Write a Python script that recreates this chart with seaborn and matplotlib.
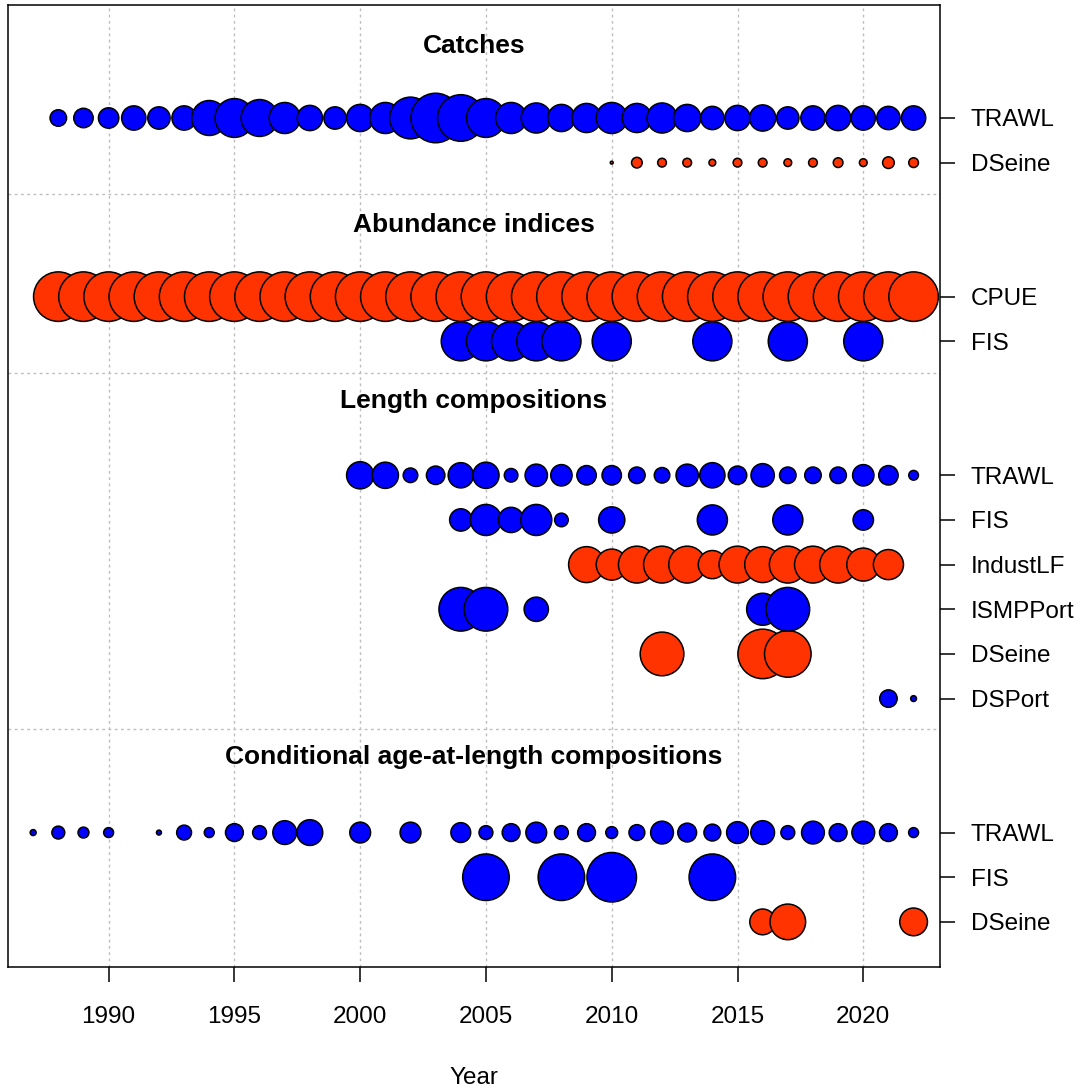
import numpy as np
import pandas as pd
import matplotlib
matplotlib.use("Agg")
import matplotlib.pyplot as plt
import seaborn as sns

# ---------------- data (bubble values, area-proportional) ----------------
catch_trawl_years = list(range(1988, 2023))
catch_trawl = [289, 400, 441, 625, 529, 625, 1296, 1600, 1444, 1024, 676, 529, 784, 1024,
               1849, 2601, 2304, 1600, 1024, 961, 784, 900, 1024, 900, 961, 784, 576, 676,
               729, 529, 625, 676, 625, 576, 625]
catch_dseine_years = list(range(2010, 2023))
catch_dseine = [9, 121, 81, 81, 49, 81, 81, 64, 81, 100, 64, 144, 100]

cpue_years = list(range(1988, 2023))
cpue = [2500] * 35
fis_idx_years = [2004, 2005, 2006, 2007, 2008, 2010, 2014, 2017, 2020]
fis_idx = [1560, 1560, 1560, 1560, 1560, 1560, 1560, 1560, 1560]

len_trawl_years = list(range(2000, 2023))
len_trawl = [784, 729, 225, 361, 676, 729, 196, 529, 484, 400, 400, 289, 256, 529, 676,
             361, 576, 289, 289, 289, 484, 400, 100]
len_fis_years = [2004, 2005, 2006, 2007, 2008, 2010, 2014, 2017, 2020]
len_fis = [529, 1024, 676, 1024, 196, 729, 961, 961, 441]
len_indust_years = list(range(2009, 2022))
len_indust = [1369, 1024, 1444, 1444, 1444, 841, 1444, 1369, 1444, 1444, 1444, 1156, 961]
len_ismp_years = [2004, 2005, 2007, 2016, 2017]
len_ismp = [2025, 2025, 625, 1089, 2025]
len_dseine_years = [2012, 2016, 2017]
len_dseine = [2025, 2601, 2304]
len_dsport_years = [2021, 2022]
len_dsport = [324, 36]

caal_trawl_years = [1987, 1988, 1989, 1990, 1992, 1993, 1994, 1995, 1996, 1997, 1998, 2000,
                    2002] + list(range(2004, 2023))
caal_trawl = [36, 169, 121, 100, 25, 225, 100, 324, 196, 576, 676, 441, 441,
              400, 196, 324, 441, 196, 324, 144, 256, 529, 361, 289, 484, 576, 196, 529,
              324, 529, 324, 100]
caal_fis_years = [2005, 2008, 2010, 2014]
caal_fis = [2209, 2209, 2500, 2209]
caal_dseine_years = [2016, 2017, 2022]
caal_dseine = [676, 1296, 784]

type_titles = ["Catches", "Abundance indices", "Length compositions",
               "Conditional age-at-length compositions"]

# ---------------- assemble ----------------
# (type, fleet label, colour group, row position, years, values)
rows = [
    ("Catches", "TRAWL", "blue", 19, catch_trawl_years, catch_trawl),
    ("Catches", "DSeine", "red", 18, catch_dseine_years, catch_dseine),
    ("Abundance indices", "CPUE", "red", 15, cpue_years, cpue),
    ("Abundance indices", "FIS", "blue", 14, fis_idx_years, fis_idx),
    ("Length compositions", "TRAWL", "blue", 11, len_trawl_years, len_trawl),
    ("Length compositions", "FIS", "blue", 10, len_fis_years, len_fis),
    ("Length compositions", "IndustLF", "red", 9, len_indust_years, len_indust),
    ("Length compositions", "ISMPPort", "blue", 8, len_ismp_years, len_ismp),
    ("Length compositions", "DSeine", "red", 7, len_dseine_years, len_dseine),
    ("Length compositions", "DSPort", "blue", 6, len_dsport_years, len_dsport),
    ("Conditional age-at-length compositions", "TRAWL", "blue", 3, caal_trawl_years, caal_trawl),
    ("Conditional age-at-length compositions", "FIS", "blue", 2, caal_fis_years, caal_fis),
    ("Conditional age-at-length compositions", "DSeine", "red", 1, caal_dseine_years, caal_dseine),
]
recs = []
for t, fl, col, ypos, yrs, vals in rows:
    for y, v in zip(yrs, vals):
        recs.append(dict(type=t, fleet=fl, grp=col, ypos=ypos, year=y, value=v))
df = pd.DataFrame(recs)

title_pos = {"Catches": 20.62, "Abundance indices": 16.6,
             "Length compositions": 12.66, "Conditional age-at-length compositions": 4.7}
separators = [17.3, 13.3, 5.32]

# ---------------- plot ----------------
sns.set_style("white")
plt.rcParams["font.family"] = ["Liberation Sans", "DejaVu Sans"]
plt.rcParams["text.color"] = "black"
plt.rcParams["axes.labelcolor"] = "black"
plt.rcParams["xtick.color"] = "black"
plt.rcParams["ytick.color"] = "black"

W = 1091
fig = plt.figure(figsize=(W / 100, W / 100), dpi=100)
ax = fig.add_axes([8 / W, 1 - 967 / W, 932 / W, 962 / W])

palette = {"blue": "#0000FF", "red": "#FF3300"}
dmax_px = 49.5
smax = (dmax_px * 0.72) ** 2

for t in type_titles:
    sub = df[df["type"] == t].sort_values(["ypos", "year"])
    vmax = sub["value"].max()
    sns.scatterplot(data=sub, x="year", y="ypos", size="value", size_norm=(0, vmax),
                    sizes=(0, smax), hue="grp", palette=palette, legend=False,
                    edgecolor="black", linewidth=1.1, alpha=1, ax=ax, zorder=3)

ax.set_xlim(1986.0, 2023.05)
ax.set_ylim(-0.01, 21.53)

ax.set_xticks(list(range(1990, 2021, 5)))
ax.grid(axis="x", color="#BEBEBE", linestyle=(0, (2, 2.5)), linewidth=1.0)
ax.grid(axis="y", visible=False)
ax.set_axisbelow(True)
for s in separators:
    ax.axhline(s, color="#BEBEBE", linestyle=(0, (2, 2.5)), linewidth=1.0, zorder=1)

for t in type_titles:
    ax.text(0.5, title_pos[t], t, transform=ax.get_yaxis_transform(), ha="center",
            va="center", fontsize=19, fontweight="bold", color="black")

ax.yaxis.tick_right()
ax.set_yticks([r[3] for r in rows])
ax.set_yticklabels([r[1] for r in rows])
ax.tick_params(axis="y", which="both", direction="out", length=11, width=1.1, pad=11,
               labelsize=17.5, right=True, left=False, colors="black")
ax.tick_params(axis="x", which="both", direction="out", length=11, width=1.1, pad=17,
               labelsize=17.5, bottom=True, colors="black")

ax.set_xlabel("Year", fontsize=17.5, color="black")
ax.set_ylabel("")
ax.xaxis.set_label_coords(0.5, (967 - 1078) / 962)
ax.xaxis.label.set_va("center")

for sp in ax.spines.values():
    sp.set_visible(True)
    sp.set_color("black")
    sp.set_linewidth(1.1)

fig.savefig("out.png", dpi=100)
